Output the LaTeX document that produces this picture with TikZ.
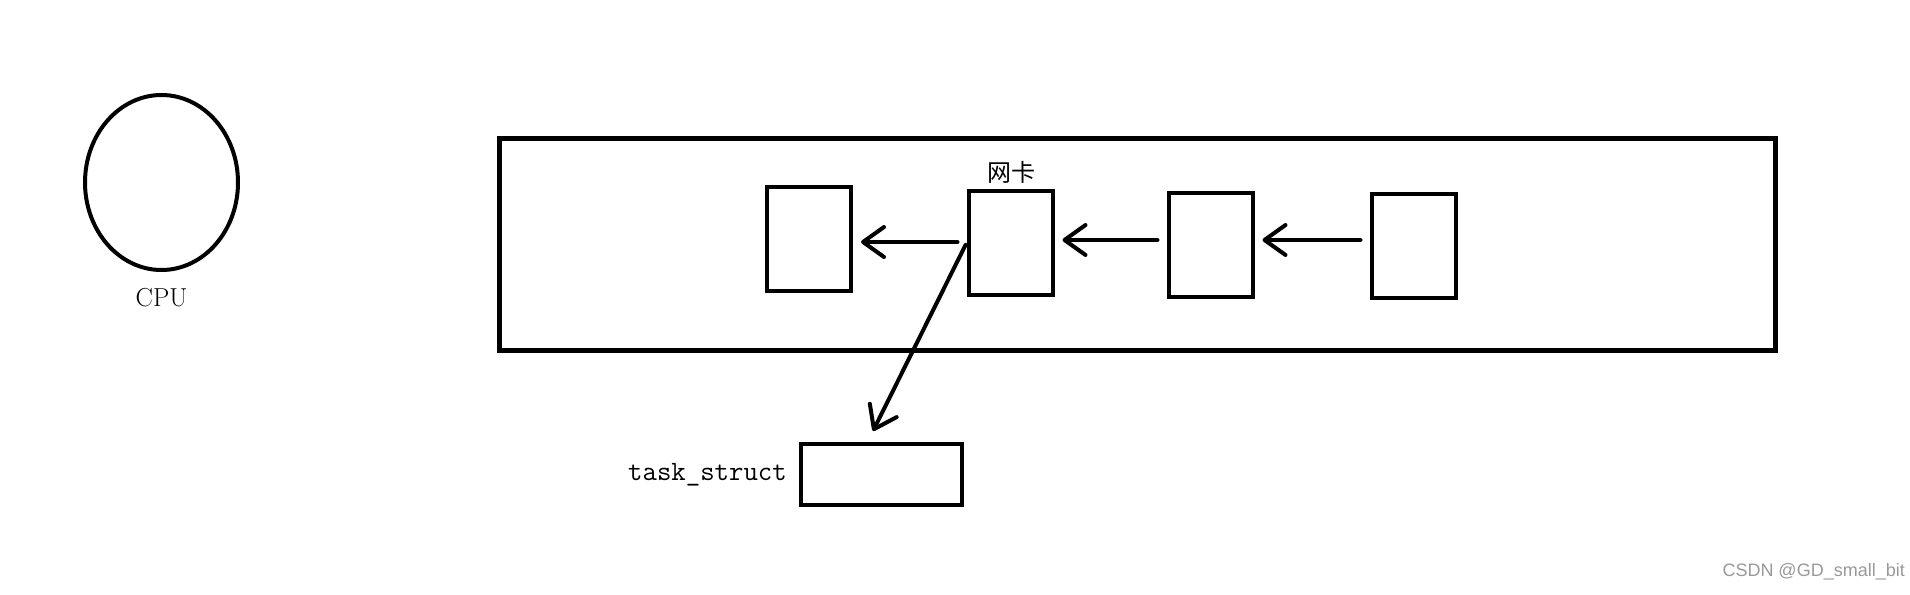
\documentclass[tikz,border=0pt]{standalone}
\usepackage{fontspec}
\newfontfamily\cjk{Noto Sans CJK SC}
\newfontfamily\wmfont{Liberation Sans}
\usetikzlibrary{arrows.meta}
\usetikzlibrary{positioning}
\usetikzlibrary{shapes.geometric}

\tikzset{
  buf/.style={draw, line width=4pt, minimum width=84pt, minimum height=104pt, inner sep=0},
  flow/.style={-{Straight Barb[length=21pt,width=30pt,round]}, line width=4pt, line cap=round},
}

\begin{document}
\begin{tikzpicture}[x=1pt,y=-1pt]
\useasboundingbox (0,0) rectangle (1910,594);
% cpu
\node[draw, ellipse, line width=4pt, minimum width=153pt, minimum height=175pt, inner sep=0] (cpu) at (161.5,182.5) {};
\node[below=16pt of cpu, inner sep=0, font=\fontsize{26}{28}\selectfont] (cpulabel) {CPU};
% network card with its buffers
\node[draw, line width=5pt, minimum width=1276pt, minimum height=212pt, inner sep=0] (nic) at (1137.5,244.5) {};
\node[buf] (buf1) at (809,239) {};
\node[buf] (buf2) at (1010.5,243) {};
\node[buf] (buf3) at (1210.5,244.5) {};
\node[buf] (buf4) at (1413.5,245.5) {};
\node[font=\cjk\fontsize{24}{26}\selectfont, inner sep=0] (niclabel) at (1011.5,172) {网卡};
\foreach \a/\b/\s in {buf2/buf1/1, buf3/buf2/4.5, buf4/buf3/5.5} {
  \draw[flow, shorten <=9pt, shorten >=8pt] ([yshift=\s pt]\a.west) -- ([yshift=\s pt]\a.west -| \b.east);
}
% task_struct
\node[draw, line width=4pt, minimum width=161pt, minimum height=61pt, inner sep=0] (task) at (881.5,474.5) {};
\node[left=12pt of task, inner sep=0, font=\ttfamily\fontsize{28}{30}\selectfont] (tasklabel) {task\_struct};
\coordinate (tip) at (873,431);
\draw[flow, shorten <=2pt] (buf2.west) -- (tip);
% watermark
\node[anchor=east, inner sep=0, text=gray!80, font=\wmfont\fontsize{18}{20}\selectfont] (mark) at (1905,572) {CSDN @GD\_small\_bit};
\end{tikzpicture}
\end{document}
